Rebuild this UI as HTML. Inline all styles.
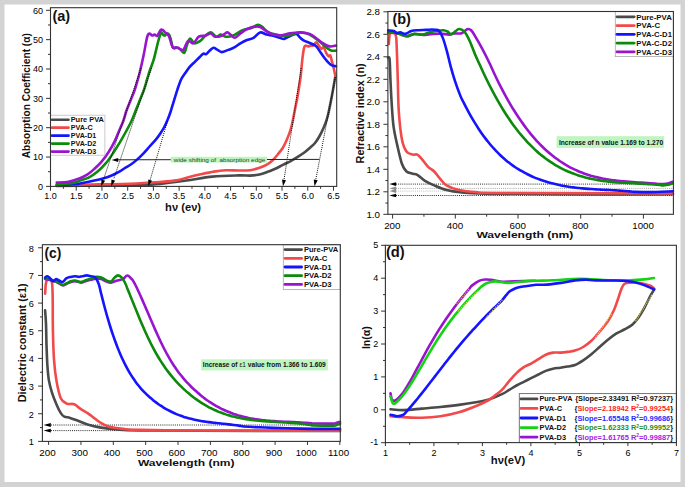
<!DOCTYPE html>
<html><head><meta charset="utf-8"><title>Optical properties</title>
<style>
html,body{margin:0;padding:0;background:#d3d3d3;}
body{width:685px;height:487px;overflow:hidden;}
svg{display:block;font-family:"Liberation Sans", sans-serif;}
</style></head>
<body>
<svg width="685" height="487" viewBox="0 0 685 487" font-family="Liberation Sans, sans-serif">
<rect x="0" y="0" width="685" height="487" fill="#d3d3d3"/>
<rect x="4.5" y="4.5" width="676" height="477.5" fill="#ffffff"/>
<line x1="46" y1="186.4" x2="50.5" y2="186.4" stroke="#333333" stroke-width="1"/>
<text x="43" y="189.6" font-size="9" text-anchor="end">0</text>
<line x1="48" y1="171.72" x2="50.5" y2="171.72" stroke="#333333" stroke-width="1"/>
<line x1="46" y1="157.05" x2="50.5" y2="157.05" stroke="#333333" stroke-width="1"/>
<text x="43" y="160.25" font-size="9" text-anchor="end">10</text>
<line x1="48" y1="142.38" x2="50.5" y2="142.38" stroke="#333333" stroke-width="1"/>
<line x1="46" y1="127.7" x2="50.5" y2="127.7" stroke="#333333" stroke-width="1"/>
<text x="43" y="130.9" font-size="9" text-anchor="end">20</text>
<line x1="48" y1="113.03" x2="50.5" y2="113.03" stroke="#333333" stroke-width="1"/>
<line x1="46" y1="98.35" x2="50.5" y2="98.35" stroke="#333333" stroke-width="1"/>
<text x="43" y="101.55" font-size="9" text-anchor="end">30</text>
<line x1="48" y1="83.67" x2="50.5" y2="83.67" stroke="#333333" stroke-width="1"/>
<line x1="46" y1="69" x2="50.5" y2="69" stroke="#333333" stroke-width="1"/>
<text x="43" y="72.2" font-size="9" text-anchor="end">40</text>
<line x1="48" y1="54.33" x2="50.5" y2="54.33" stroke="#333333" stroke-width="1"/>
<line x1="46" y1="39.65" x2="50.5" y2="39.65" stroke="#333333" stroke-width="1"/>
<text x="43" y="42.85" font-size="9" text-anchor="end">50</text>
<line x1="48" y1="24.97" x2="50.5" y2="24.97" stroke="#333333" stroke-width="1"/>
<line x1="46" y1="10.3" x2="50.5" y2="10.3" stroke="#333333" stroke-width="1"/>
<text x="43" y="13.5" font-size="9" text-anchor="end">60</text>
<line x1="50.5" y1="186.4" x2="50.5" y2="190.7" stroke="#333333" stroke-width="1"/>
<text x="50.5" y="199.3" font-size="9" text-anchor="middle">1.0</text>
<line x1="63.36" y1="186.4" x2="63.36" y2="188.8" stroke="#333333" stroke-width="1"/>
<line x1="76.22" y1="186.4" x2="76.22" y2="190.7" stroke="#333333" stroke-width="1"/>
<text x="76.22" y="199.3" font-size="9" text-anchor="middle">1.5</text>
<line x1="89.09" y1="186.4" x2="89.09" y2="188.8" stroke="#333333" stroke-width="1"/>
<line x1="101.95" y1="186.4" x2="101.95" y2="190.7" stroke="#333333" stroke-width="1"/>
<text x="101.95" y="199.3" font-size="9" text-anchor="middle">2.0</text>
<line x1="114.81" y1="186.4" x2="114.81" y2="188.8" stroke="#333333" stroke-width="1"/>
<line x1="127.68" y1="186.4" x2="127.68" y2="190.7" stroke="#333333" stroke-width="1"/>
<text x="127.68" y="199.3" font-size="9" text-anchor="middle">2.5</text>
<line x1="140.54" y1="186.4" x2="140.54" y2="188.8" stroke="#333333" stroke-width="1"/>
<line x1="153.4" y1="186.4" x2="153.4" y2="190.7" stroke="#333333" stroke-width="1"/>
<text x="153.4" y="199.3" font-size="9" text-anchor="middle">3.0</text>
<line x1="166.26" y1="186.4" x2="166.26" y2="188.8" stroke="#333333" stroke-width="1"/>
<line x1="179.12" y1="186.4" x2="179.12" y2="190.7" stroke="#333333" stroke-width="1"/>
<text x="179.12" y="199.3" font-size="9" text-anchor="middle">3.5</text>
<line x1="191.99" y1="186.4" x2="191.99" y2="188.8" stroke="#333333" stroke-width="1"/>
<line x1="204.85" y1="186.4" x2="204.85" y2="190.7" stroke="#333333" stroke-width="1"/>
<text x="204.85" y="199.3" font-size="9" text-anchor="middle">4.0</text>
<line x1="217.71" y1="186.4" x2="217.71" y2="188.8" stroke="#333333" stroke-width="1"/>
<line x1="230.58" y1="186.4" x2="230.58" y2="190.7" stroke="#333333" stroke-width="1"/>
<text x="230.58" y="199.3" font-size="9" text-anchor="middle">4.5</text>
<line x1="243.44" y1="186.4" x2="243.44" y2="188.8" stroke="#333333" stroke-width="1"/>
<line x1="256.3" y1="186.4" x2="256.3" y2="190.7" stroke="#333333" stroke-width="1"/>
<text x="256.3" y="199.3" font-size="9" text-anchor="middle">5.0</text>
<line x1="269.16" y1="186.4" x2="269.16" y2="188.8" stroke="#333333" stroke-width="1"/>
<line x1="282.02" y1="186.4" x2="282.02" y2="190.7" stroke="#333333" stroke-width="1"/>
<text x="282.02" y="199.3" font-size="9" text-anchor="middle">5.5</text>
<line x1="294.89" y1="186.4" x2="294.89" y2="188.8" stroke="#333333" stroke-width="1"/>
<line x1="307.75" y1="186.4" x2="307.75" y2="190.7" stroke="#333333" stroke-width="1"/>
<text x="307.75" y="199.3" font-size="9" text-anchor="middle">6.0</text>
<line x1="320.61" y1="186.4" x2="320.61" y2="188.8" stroke="#333333" stroke-width="1"/>
<line x1="333.48" y1="186.4" x2="333.48" y2="190.7" stroke="#333333" stroke-width="1"/>
<text x="333.48" y="199.3" font-size="9" text-anchor="middle">6.5</text>
<text x="30.4" y="95.7" font-size="10.5" text-anchor="middle" font-weight="bold" fill="#111" textLength="125" lengthAdjust="spacingAndGlyphs" transform="rotate(-90 30.4 95.7)">Absorption Coefficient (α)</text>
<text x="183.1" y="211" font-size="10" text-anchor="middle" font-weight="bold" fill="#111" textLength="36" lengthAdjust="spacingAndGlyphs">hν (eν)</text>
<text x="52.4" y="21.2" font-size="14" font-weight="bold" fill="#111" textLength="17.8" lengthAdjust="spacingAndGlyphs">(a)</text>
<g>
<path d="M56.8,186 C64,185.93 86.13,185.77 100,185.6 C113.87,185.43 130,185.28 140,185 C150,184.72 152.28,184.65 160,183.9 C167.72,183.15 177.55,181.72 186.3,180.5 C195.05,179.28 203.75,177.45 212.5,176.6 C221.25,175.75 232.55,175.57 238.8,175.4 C245.05,175.23 246.77,175.7 250,175.6 C253.23,175.5 255.47,175.35 258.2,174.8 C260.93,174.25 263.65,173.27 266.4,172.3 C269.15,171.33 271.95,170.23 274.7,169 C277.45,167.77 280.17,166.27 282.9,164.9 C285.63,163.53 288.37,162.3 291.1,160.8 C293.83,159.3 296.98,157.37 299.3,155.9 C301.62,154.43 303.22,153.37 305,152 C306.78,150.63 308.33,149.2 310,147.7 C311.67,146.2 313.45,144.87 315,143 C316.55,141.13 317.88,139 319.3,136.5 C320.72,134 322.22,130.98 323.5,128 C324.78,125.02 326,121.93 327,118.6 C328,115.27 328.72,111.6 329.5,108 C330.28,104.4 331.03,100.5 331.7,97 C332.37,93.5 332.88,90.5 333.5,87 C334.12,83.5 335.08,77.83 335.4,76" fill="none" stroke="#4a4a4a" stroke-width="2.6" stroke-linejoin="round" stroke-linecap="round"/>
<path d="M56.8,185.3 C63.88,185.15 87.1,184.65 99.3,184.4 C111.5,184.15 119.88,184.2 130,183.8 C140.12,183.4 152.23,182.57 160,182 C167.77,181.43 172,181.17 176.6,180.4 C181.2,179.63 183.58,178.42 187.6,177.4 C191.62,176.38 196.32,175.27 200.7,174.3 C205.08,173.33 209.73,172.27 213.9,171.6 C218.07,170.93 221.55,170.48 225.7,170.3 C229.85,170.12 234.75,170.52 238.8,170.5 C242.85,170.48 246.77,170.58 250,170.2 C253.23,169.82 255.47,169.08 258.2,168.2 C260.93,167.32 263.93,166.27 266.4,164.9 C268.87,163.53 271.08,161.78 273,160 C274.92,158.22 276.25,156.25 277.9,154.2 C279.55,152.15 281.52,149.88 282.9,147.7 C284.28,145.52 285.1,143.57 286.2,141.1 C287.3,138.63 288.55,135.63 289.5,132.9 C290.45,130.17 291.22,127.45 291.9,124.7 C292.58,121.95 293.05,119.15 293.6,116.4 C294.15,113.65 294.65,110.93 295.2,108.2 C295.75,105.47 296.4,102.62 296.9,100 C297.4,97.38 297.57,96.48 298.2,92.5 C298.83,88.52 300.02,81.58 300.7,76.1 C301.38,70.62 301.75,64.27 302.3,59.6 C302.85,54.93 303.45,50.43 304,48.1 C304.55,45.77 304.92,45.88 305.6,45.6 C306.28,45.32 307.27,46.4 308.1,46.4 C308.93,46.4 309.78,45.73 310.6,45.6 C311.42,45.47 312.05,46.15 313,45.6 C313.95,45.05 315.33,42.3 316.3,42.3 C317.27,42.3 317.97,44.5 318.8,45.6 C319.63,46.7 320.48,48.62 321.3,48.9 C322.12,49.18 322.88,46.62 323.7,47.3 C324.52,47.98 325.37,51.5 326.2,53 C327.03,54.5 328.02,55.88 328.7,56.3 C329.38,56.72 329.77,54.67 330.3,55.5 C330.83,56.33 331.35,59.25 331.9,61.3 C332.45,63.35 333.02,65.33 333.6,67.8 C334.18,70.27 335.1,74.72 335.4,76.1" fill="none" stroke="#f24a4a" stroke-width="2.6" stroke-linejoin="round" stroke-linecap="round"/>
<path d="M56.8,185 C59.78,184.88 70.83,184.55 74.7,184.3 C78.57,184.05 76.72,184.12 80,183.5 C83.28,182.88 90.57,181.43 94.4,180.6 C98.23,179.77 100.12,179.35 103,178.5 C105.88,177.65 108.82,176.72 111.7,175.5 C114.58,174.28 118.08,172.45 120.3,171.2 C122.52,169.95 123.18,169.15 125,168 C126.82,166.85 129.15,165.73 131.2,164.3 C133.25,162.87 135.25,161.23 137.3,159.4 C139.35,157.57 141.45,155.45 143.5,153.3 C145.55,151.15 147.55,148.77 149.6,146.5 C151.65,144.23 154.07,141.78 155.8,139.7 C157.53,137.62 158.63,136.03 160,134 C161.37,131.97 162.75,129.83 164,127.5 C165.25,125.17 166.42,122.58 167.5,120 C168.58,117.42 169.6,114.65 170.5,112 C171.4,109.35 171.73,107.88 172.9,104.1 C174.07,100.32 176.12,93.45 177.5,89.3 C178.88,85.15 179.97,81.82 181.2,79.2 C182.43,76.58 183.52,75.6 184.9,73.6 C186.28,71.6 187.8,69.2 189.5,67.2 C191.2,65.2 193.4,63.3 195.1,61.6 C196.8,59.9 198.32,58.32 199.7,57 C201.08,55.68 202.32,54.17 203.4,53.7 C204.48,53.23 205.13,54.73 206.2,54.2 C207.27,53.67 208.58,51.57 209.8,50.5 C211.02,49.43 212.27,47.95 213.5,47.8 C214.73,47.65 215.83,48.88 217.2,49.6 C218.57,50.32 219.85,52.05 221.7,52.1 C223.55,52.15 226.28,50.63 228.3,49.9 C230.32,49.17 231.78,48.8 233.8,47.7 C235.82,46.6 238.22,44.58 240.4,43.3 C242.58,42.02 244.72,40.92 246.9,40 C249.08,39.08 251.3,39.07 253.5,37.8 C255.7,36.53 257.92,32.93 260.1,32.4 C262.28,31.87 264.42,34.05 266.6,34.6 C268.78,35.15 271,35.17 273.2,35.7 C275.4,36.23 277.97,37.27 279.8,37.8 C281.63,38.33 282.38,39.25 284.2,38.9 C286.02,38.55 288.63,36.5 290.7,35.7 C292.77,34.9 295.07,33.82 296.6,34.1 C298.13,34.38 298.67,36.3 299.9,37.4 C301.13,38.5 302.63,39.88 304,40.7 C305.37,41.52 306.73,41.75 308.1,42.3 C309.47,42.85 310.83,43.32 312.2,44 C313.57,44.68 314.93,45.03 316.3,46.4 C317.67,47.77 319.03,50.27 320.4,52.2 C321.77,54.13 323.12,56.22 324.5,58 C325.88,59.78 327.47,61.67 328.7,62.9 C329.93,64.13 330.68,64.85 331.9,65.4 C333.12,65.95 335.32,66.07 336,66.2" fill="none" stroke="#1414ff" stroke-width="2.6" stroke-linejoin="round" stroke-linecap="round"/>
<path d="M56.8,184.6 C59.78,184.27 70.83,183.27 74.7,182.6 C78.57,181.93 77.68,181.43 80,180.6 C82.32,179.77 85.72,179.07 88.6,177.6 C91.48,176.13 94.42,174.2 97.3,171.8 C100.18,169.4 103.27,166.32 105.9,163.2 C108.53,160.08 110.7,156.7 113.1,153.1 C115.5,149.5 118.15,145.2 120.3,141.6 C122.45,138 124.13,134.93 126,131.5 C127.87,128.07 129.9,124.45 131.5,121 C133.1,117.55 134.23,114.22 135.6,110.8 C136.97,107.38 138.33,103.92 139.7,100.5 C141.07,97.08 142.55,93.88 143.8,90.3 C145.05,86.72 146.17,82.38 147.2,79 C148.23,75.62 148.97,73.05 150,70 C151.03,66.95 152.42,63.88 153.4,60.7 C154.38,57.52 155.08,54.18 155.9,50.9 C156.72,47.62 157.58,43.67 158.3,41 C159.02,38.33 159.68,36.33 160.2,34.9 C160.72,33.47 160.88,32.4 161.4,32.4 C161.92,32.4 162.68,34.38 163.3,34.9 C163.92,35.42 164.5,35.72 165.1,35.5 C165.7,35.28 166.28,33.82 166.9,33.6 C167.52,33.38 168.18,33.38 168.8,34.2 C169.42,35.02 169.98,36.43 170.6,38.5 C171.22,40.57 171.88,44.95 172.5,46.6 C173.12,48.25 173.58,48.2 174.3,48.4 C175.02,48.6 175.85,47.7 176.8,47.8 C177.75,47.9 178.77,48.17 180,49 C181.23,49.83 183.03,53.47 184.2,52.8 C185.37,52.13 186.02,47.38 187,45 C187.98,42.62 188.87,38.78 190.1,38.5 C191.33,38.22 192.77,42.87 194.4,43.3 C196.03,43.73 198.08,42.37 199.9,41.1 C201.72,39.83 203.48,37.15 205.3,35.7 C207.12,34.25 208.97,32.23 210.8,32.4 C212.63,32.57 214.65,36.33 216.3,36.7 C217.95,37.07 219.07,34.6 220.7,34.6 C222.33,34.6 224.1,36.52 226.1,36.7 C228.1,36.88 229.95,36.78 232.7,35.7 C235.45,34.62 239.5,31.48 242.6,30.2 C245.7,28.92 248.75,28.92 251.3,28 C253.85,27.08 256.07,24.88 257.9,24.7 C259.73,24.52 260.48,25.62 262.3,26.9 C264.12,28.18 265.52,30.93 268.8,32.4 C272.08,33.87 278.47,35.22 282,35.7 C285.53,36.18 287.3,35.83 290,35.3 C292.7,34.77 295.47,32.83 298.2,32.5 C300.93,32.17 303.93,32.62 306.4,33.3 C308.87,33.98 310.8,35.23 313,36.6 C315.2,37.97 317.4,39.72 319.6,41.5 C321.8,43.28 324.28,45.78 326.2,47.3 C328.12,48.82 329.47,50.05 331.1,50.6 C332.73,51.15 335.18,50.6 336,50.6" fill="none" stroke="#0b8a0b" stroke-width="2.6" stroke-linejoin="round" stroke-linecap="round"/>
<path d="M56.8,182.6 C58.75,182.47 64.63,182.52 68.5,181.8 C72.37,181.08 76.88,179.48 80,178.3 C83.12,177.12 84.8,176.27 87.2,174.7 C89.6,173.13 92,171.07 94.4,168.9 C96.8,166.73 99.2,164.57 101.6,161.7 C104,158.83 106.65,155.05 108.8,151.7 C110.95,148.35 112.83,144.97 114.5,141.6 C116.17,138.23 117.33,134.93 118.8,131.5 C120.27,128.07 122.03,124.45 123.3,121 C124.57,117.55 125.2,114.22 126.4,110.8 C127.6,107.38 129.13,103.92 130.5,100.5 C131.87,97.08 133.4,93.72 134.6,90.3 C135.8,86.88 136.82,83.08 137.7,80 C138.58,76.92 138.93,75.83 139.9,71.8 C140.87,67.77 142.43,60.93 143.5,55.8 C144.57,50.67 145.57,44.48 146.3,41 C147.03,37.52 147.33,36.13 147.9,34.9 C148.47,33.67 148.98,33.5 149.7,33.6 C150.42,33.7 151.38,35.33 152.2,35.5 C153.02,35.67 153.78,34.5 154.6,34.6 C155.42,34.7 156.38,36.37 157.1,36.1 C157.82,35.83 158.28,34.07 158.9,33 C159.52,31.93 160.18,30.22 160.8,29.7 C161.42,29.18 161.88,29.45 162.6,29.9 C163.32,30.35 164.27,31.68 165.1,32.4 C165.93,33.12 166.88,33.38 167.6,34.2 C168.32,35.02 168.78,35.75 169.4,37.3 C170.02,38.85 170.68,41.75 171.3,43.5 C171.92,45.25 172.38,47.18 173.1,47.8 C173.82,48.42 174.78,47.2 175.6,47.2 C176.42,47.2 177.18,47.45 178,47.8 C178.82,48.15 179.57,49 180.5,49.3 C181.43,49.6 182.35,50.98 183.6,49.6 C184.85,48.22 186.38,42.05 188,41 C189.62,39.95 191.5,44.02 193.3,43.3 C195.1,42.58 196.8,37.97 198.8,36.7 C200.8,35.43 203.3,36.23 205.3,35.7 C207.3,35.17 209.15,33.33 210.8,33.5 C212.45,33.67 213.38,36.33 215.2,36.7 C217.02,37.07 219.7,36.42 221.7,35.7 C223.7,34.98 225.73,32.58 227.2,32.4 C228.67,32.22 229.22,33.7 230.5,34.6 C231.78,35.5 233.25,37.98 234.9,37.8 C236.55,37.62 238.4,34.95 240.4,33.5 C242.4,32.05 244.72,30.2 246.9,29.1 C249.08,28 251.3,27.27 253.5,26.9 C255.7,26.53 257.92,26.17 260.1,26.9 C262.28,27.63 264.42,30.02 266.6,31.3 C268.78,32.58 270.63,33.95 273.2,34.6 C275.77,35.25 279.2,35.42 282,35.2 C284.8,34.98 287.02,33.75 290,33.3 C292.98,32.85 296.62,32.37 299.9,32.5 C303.18,32.63 306.97,33.15 309.7,34.1 C312.43,35.05 314.1,36.68 316.3,38.2 C318.5,39.72 320.7,41.83 322.9,43.2 C325.1,44.57 327.32,46 329.5,46.4 C331.68,46.8 334.92,45.73 336,45.6" fill="none" stroke="#9914cf" stroke-width="2.6" stroke-linejoin="round" stroke-linecap="round"/>
</g>
<line x1="141" y1="68" x2="103.59" y2="179.2" stroke="#000" stroke-width="0.95" stroke-dasharray="1 1.1"/>
<path d="M101.2,186.3 L101.38,179.5 L105.17,180.78 Z" fill="#000"/>
<line x1="151.5" y1="68" x2="113.62" y2="179.2" stroke="#000" stroke-width="0.95" stroke-dasharray="1 1.1"/>
<path d="M111.2,186.3 L111.4,179.5 L115.19,180.79 Z" fill="#000"/>
<line x1="167.5" y1="121" x2="149.45" y2="182.38" stroke="#000" stroke-width="0.95" stroke-dasharray="1 1.1"/>
<path d="M148.3,186.3 L148.21,179.5 L152.05,180.63 Z" fill="#000"/>
<line x1="301.2" y1="68" x2="284.09" y2="179.2" stroke="#000" stroke-width="0.95" stroke-dasharray="1 1.1"/>
<path d="M283,186.3 L282.01,179.57 L285.97,180.18 Z" fill="#000"/>
<line x1="335.4" y1="77" x2="315.75" y2="179.74" stroke="#000" stroke-width="0.95" stroke-dasharray="1 1.1"/>
<path d="M314.5,186.3 L313.76,179.54 L317.69,180.29 Z" fill="#000"/>
<line x1="116" y1="159.8" x2="319.3" y2="159.4" stroke="#222" stroke-width="1.0"/>
<path d="M111.7,159.9 L118.2,157.9 L118.2,161.9 Z" fill="#000"/>
<rect x="170.7" y="156.8" width="96.3" height="5.8" fill="#bdf5bd"/>
<text x="173.8" y="161.5" font-size="6.2" fill="#264a26" textLength="91.5" lengthAdjust="spacingAndGlyphs">wide shifting of&#160; absorption edge</text>
<rect x="50.6" y="115.2" width="54.3" height="40" fill="#ffffff" stroke="#bdbdbd" stroke-width="0.8"/>
<line x1="52" y1="119.75" x2="68.5" y2="119.75" stroke="#4a4a4a" stroke-width="2.7" stroke-linecap="round"/>
<text x="70.7" y="122.05" font-size="6.4" font-weight="bold" fill="#111" textLength="33.2" lengthAdjust="spacingAndGlyphs">Pure PVA</text>
<line x1="52" y1="127.7" x2="68.5" y2="127.7" stroke="#f24a4a" stroke-width="2.7" stroke-linecap="round"/>
<text x="70.7" y="130" font-size="6.4" font-weight="bold" fill="#111" textLength="22" lengthAdjust="spacingAndGlyphs">PVA-C</text>
<line x1="52" y1="135.65" x2="68.5" y2="135.65" stroke="#1414ff" stroke-width="2.7" stroke-linecap="round"/>
<text x="70.7" y="137.95" font-size="6.4" font-weight="bold" fill="#111" textLength="25.6" lengthAdjust="spacingAndGlyphs">PVA-D1</text>
<line x1="52" y1="143.6" x2="68.5" y2="143.6" stroke="#0b8a0b" stroke-width="2.7" stroke-linecap="round"/>
<text x="70.7" y="145.9" font-size="6.4" font-weight="bold" fill="#111" textLength="25.6" lengthAdjust="spacingAndGlyphs">PVA-D2</text>
<line x1="52" y1="151.55" x2="68.5" y2="151.55" stroke="#9914cf" stroke-width="2.7" stroke-linecap="round"/>
<text x="70.7" y="153.85" font-size="6.4" font-weight="bold" fill="#111" textLength="25.6" lengthAdjust="spacingAndGlyphs">PVA-D3</text>
<rect x="50.5" y="7.7" width="286.2" height="178.7" fill="none" stroke="#333333" stroke-width="1.1"/>
<line x1="383.4" y1="214.3" x2="387.9" y2="214.3" stroke="#333333" stroke-width="1"/>
<text x="380" y="217.5" font-size="9" text-anchor="end" textLength="13.6" lengthAdjust="spacingAndGlyphs">1.0</text>
<line x1="385.4" y1="203.05" x2="387.9" y2="203.05" stroke="#333333" stroke-width="1"/>
<line x1="383.4" y1="191.8" x2="387.9" y2="191.8" stroke="#333333" stroke-width="1"/>
<text x="380" y="195" font-size="9" text-anchor="end" textLength="13.6" lengthAdjust="spacingAndGlyphs">1.2</text>
<line x1="385.4" y1="180.55" x2="387.9" y2="180.55" stroke="#333333" stroke-width="1"/>
<line x1="383.4" y1="169.3" x2="387.9" y2="169.3" stroke="#333333" stroke-width="1"/>
<text x="380" y="172.5" font-size="9" text-anchor="end" textLength="13.6" lengthAdjust="spacingAndGlyphs">1.4</text>
<line x1="385.4" y1="158.05" x2="387.9" y2="158.05" stroke="#333333" stroke-width="1"/>
<line x1="383.4" y1="146.8" x2="387.9" y2="146.8" stroke="#333333" stroke-width="1"/>
<text x="380" y="150" font-size="9" text-anchor="end" textLength="13.6" lengthAdjust="spacingAndGlyphs">1.6</text>
<line x1="385.4" y1="135.55" x2="387.9" y2="135.55" stroke="#333333" stroke-width="1"/>
<line x1="383.4" y1="124.3" x2="387.9" y2="124.3" stroke="#333333" stroke-width="1"/>
<text x="380" y="127.5" font-size="9" text-anchor="end" textLength="13.6" lengthAdjust="spacingAndGlyphs">1.8</text>
<line x1="385.4" y1="113.05" x2="387.9" y2="113.05" stroke="#333333" stroke-width="1"/>
<line x1="383.4" y1="101.8" x2="387.9" y2="101.8" stroke="#333333" stroke-width="1"/>
<text x="380" y="105" font-size="9" text-anchor="end" textLength="13.6" lengthAdjust="spacingAndGlyphs">2.0</text>
<line x1="385.4" y1="90.55" x2="387.9" y2="90.55" stroke="#333333" stroke-width="1"/>
<line x1="383.4" y1="79.3" x2="387.9" y2="79.3" stroke="#333333" stroke-width="1"/>
<text x="380" y="82.5" font-size="9" text-anchor="end" textLength="13.6" lengthAdjust="spacingAndGlyphs">2.2</text>
<line x1="385.4" y1="68.05" x2="387.9" y2="68.05" stroke="#333333" stroke-width="1"/>
<line x1="383.4" y1="56.8" x2="387.9" y2="56.8" stroke="#333333" stroke-width="1"/>
<text x="380" y="60" font-size="9" text-anchor="end" textLength="13.6" lengthAdjust="spacingAndGlyphs">2.4</text>
<line x1="385.4" y1="45.55" x2="387.9" y2="45.55" stroke="#333333" stroke-width="1"/>
<line x1="383.4" y1="34.3" x2="387.9" y2="34.3" stroke="#333333" stroke-width="1"/>
<text x="380" y="37.5" font-size="9" text-anchor="end" textLength="13.6" lengthAdjust="spacingAndGlyphs">2.6</text>
<line x1="385.4" y1="23.05" x2="387.9" y2="23.05" stroke="#333333" stroke-width="1"/>
<line x1="383.4" y1="11.8" x2="387.9" y2="11.8" stroke="#333333" stroke-width="1"/>
<text x="380" y="15" font-size="9" text-anchor="end" textLength="13.6" lengthAdjust="spacingAndGlyphs">2.8</text>
<line x1="392.6" y1="214.3" x2="392.6" y2="218.6" stroke="#333333" stroke-width="1"/>
<text x="392.3" y="228.7" font-size="9.3" text-anchor="middle" textLength="16.3" lengthAdjust="spacingAndGlyphs">200</text>
<line x1="423.95" y1="214.3" x2="423.95" y2="216.7" stroke="#333333" stroke-width="1"/>
<line x1="455.3" y1="214.3" x2="455.3" y2="218.6" stroke="#333333" stroke-width="1"/>
<text x="455" y="228.7" font-size="9.3" text-anchor="middle" textLength="16.3" lengthAdjust="spacingAndGlyphs">400</text>
<line x1="486.65" y1="214.3" x2="486.65" y2="216.7" stroke="#333333" stroke-width="1"/>
<line x1="518" y1="214.3" x2="518" y2="218.6" stroke="#333333" stroke-width="1"/>
<text x="517.7" y="228.7" font-size="9.3" text-anchor="middle" textLength="16.3" lengthAdjust="spacingAndGlyphs">600</text>
<line x1="549.35" y1="214.3" x2="549.35" y2="216.7" stroke="#333333" stroke-width="1"/>
<line x1="580.7" y1="214.3" x2="580.7" y2="218.6" stroke="#333333" stroke-width="1"/>
<text x="580.4" y="228.7" font-size="9.3" text-anchor="middle" textLength="16.3" lengthAdjust="spacingAndGlyphs">800</text>
<line x1="612.05" y1="214.3" x2="612.05" y2="216.7" stroke="#333333" stroke-width="1"/>
<line x1="643.4" y1="214.3" x2="643.4" y2="218.6" stroke="#333333" stroke-width="1"/>
<text x="643.1" y="228.7" font-size="9.3" text-anchor="middle" textLength="21.6" lengthAdjust="spacingAndGlyphs">1000</text>
<text x="364" y="113.4" font-size="10.5" text-anchor="middle" font-weight="bold" fill="#111" textLength="100" lengthAdjust="spacingAndGlyphs" transform="rotate(-90 364 113.4)">Refractive index (n)</text>
<text x="524.9" y="238.4" font-size="9.6" text-anchor="middle" font-weight="bold" fill="#111" textLength="97" lengthAdjust="spacingAndGlyphs">Wavelength (nm)</text>
<text x="392.4" y="23.9" font-size="14" font-weight="bold" fill="#111" textLength="18.5" lengthAdjust="spacingAndGlyphs">(b)</text>
<line x1="396" y1="184.1" x2="673.4" y2="184.1" stroke="#111" stroke-width="0.9" stroke-dasharray="1 1.1"/>
<path d="M389.4,184.1 L396.1,182.3 L396.1,185.9 Z" fill="#000"/>
<line x1="396" y1="188.4" x2="673.4" y2="188.4" stroke="#9a9a9a" stroke-width="0.9" stroke-dasharray="1 1.1"/>
<path d="M389.4,188.4 L396.1,186.6 L396.1,190.2 Z" fill="#8a8a8a"/>
<line x1="396" y1="191.1" x2="673.4" y2="191.1" stroke="#b5b5b5" stroke-width="0.9" stroke-dasharray="1 1.1"/>
<path d="M389.4,191.1 L396.1,189.3 L396.1,192.9 Z" fill="#8a8a8a"/>
<line x1="396" y1="195.5" x2="673.4" y2="195.5" stroke="#111" stroke-width="0.9" stroke-dasharray="1 1.1"/>
<path d="M389.4,195.5 L396.1,193.7 L396.1,197.3 Z" fill="#000"/>
<path d="M388.1,57.7 C388.35,58 389.2,55.65 389.6,59.5 C390,63.35 390.13,73.15 390.5,80.8 C390.87,88.45 391.28,97.72 391.8,105.4 C392.32,113.08 392.68,120.23 393.6,126.9 C394.52,133.57 395.92,139.25 397.3,145.4 C398.68,151.55 400.37,159.45 401.9,163.8 C403.43,168.15 404.7,169.85 406.5,171.5 C408.3,173.15 410.9,173.15 412.7,173.7 C414.5,174.25 415.25,173.62 417.3,174.8 C419.35,175.98 422.18,179.03 425,180.8 C427.82,182.57 430.62,183.87 434.2,185.4 C437.78,186.93 441.88,188.83 446.5,190 C451.12,191.17 455.48,191.8 461.9,192.4 C468.32,193 468.65,193.28 485,193.6 C501.35,193.92 528.67,194.18 560,194.3 C591.33,194.42 654.17,194.3 673,194.3" fill="none" stroke="#4a4a4a" stroke-width="2.6" stroke-linejoin="round" stroke-linecap="round"/>
<path d="M388.8,44 C388.98,42.2 389.4,35.03 389.9,33.2 C390.4,31.37 390.97,32.93 391.8,33 C392.63,33.07 394.17,32.85 394.9,33.6 C395.63,34.35 395.88,34.9 396.2,37.5 C396.52,40.1 396.62,44.82 396.8,49.2 C396.98,53.58 397.13,58.53 397.3,63.8 C397.47,69.07 397.55,72.85 397.8,80.8 C398.05,88.75 398.12,101.77 398.8,111.5 C399.48,121.23 400.62,132.53 401.9,139.2 C403.18,145.87 404.7,148.93 406.5,151.5 C408.3,154.07 410.9,154.08 412.7,154.6 C414.5,155.12 415.77,153.83 417.3,154.6 C418.83,155.37 420.1,157.15 421.9,159.2 C423.7,161.25 426.05,164.85 428.1,166.9 C430.15,168.95 432.15,169.45 434.2,171.5 C436.25,173.55 438.35,176.88 440.4,179.2 C442.45,181.52 443.43,183.6 446.5,185.4 C449.57,187.2 453.67,188.87 458.8,190 C463.93,191.13 470.43,191.7 477.3,192.2 C484.17,192.7 467.38,192.8 500,193 C532.62,193.2 644.17,193.33 673,193.4" fill="none" stroke="#f24a4a" stroke-width="2.6" stroke-linejoin="round" stroke-linecap="round"/>
<path d="M388.2,32.6 C389.13,32.6 391.9,32.35 393.8,32.6 C395.7,32.85 397.42,33.48 399.6,34.1 C401.78,34.72 404.47,36.3 406.9,36.3 C409.33,36.3 411.52,34.33 414.2,34.1 C416.88,33.87 420.37,34.87 423,34.9 C425.63,34.93 427.17,34.52 430,34.3 C432.83,34.08 436.8,33.55 440,33.6 C443.2,33.65 446.92,34.63 449.2,34.6 C451.48,34.57 451.62,33.63 453.7,33.4 C455.78,33.17 459.47,33.9 461.7,33.2 C463.93,32.5 465.53,29.68 467.1,29.2 C468.67,28.72 469.55,28.77 471.1,30.3 C472.65,31.83 474.4,35.05 476.4,38.4 C478.4,41.75 480.87,46.17 483.1,50.4 C485.33,54.63 488.18,60.44 489.8,63.79 C491.42,67.15 491.83,68.33 492.84,70.53 C493.85,72.74 494.86,74.89 495.88,77.01 C496.89,79.12 497.9,81.19 498.91,83.22 C499.93,85.24 500.94,87.23 501.95,89.17 C502.96,91.11 503.98,93.01 504.99,94.87 C506,96.73 507.01,98.55 508.02,100.33 C509.04,102.1 510.05,103.84 511.06,105.54 C512.08,107.24 513.09,108.9 514.1,110.52 C515.11,112.14 516.12,113.73 517.14,115.27 C518.15,116.82 519.16,118.33 520.17,119.8 C521.19,121.28 522.2,122.71 523.21,124.12 C524.23,125.52 525.24,126.88 526.25,128.22 C527.26,129.55 528.27,130.85 529.29,132.11 C530.3,133.37 531.31,134.6 532.33,135.8 C533.34,137 534.35,138.17 535.36,139.3 C536.38,140.44 537.39,141.54 538.4,142.61 C539.41,143.68 540.42,144.73 541.44,145.74 C542.45,146.75 543.46,147.73 544.48,148.69 C545.49,149.64 546.5,150.57 547.51,151.46 C548.53,152.36 549.54,153.23 550.55,154.07 C551.56,154.92 552.57,155.73 553.59,156.52 C554.6,157.31 555.61,158.08 556.62,158.82 C557.64,159.56 558.65,160.27 559.66,160.96 C560.68,161.65 561.69,162.32 562.7,162.96 C563.71,163.61 564.72,164.23 565.74,164.83 C566.75,165.43 567.76,166 568.77,166.56 C569.79,167.11 570.8,167.65 571.81,168.16 C572.83,168.68 573.84,169.17 574.85,169.64 C575.86,170.12 576.88,170.57 577.89,171.01 C578.9,171.45 579.91,171.87 580.92,172.27 C581.94,172.67 582.95,173.05 583.96,173.42 C584.98,173.79 585.99,174.14 587,174.48 C588.01,174.81 589.02,175.13 590.04,175.44 C591.05,175.74 592.06,176.03 593.08,176.31 C594.09,176.59 595.1,176.85 596.11,177.1 C597.12,177.35 598.14,177.59 599.15,177.81 C600.16,178.04 601.17,178.25 602.19,178.45 C603.2,178.65 604.21,178.84 605.23,179.02 C606.24,179.21 607.25,179.38 608.26,179.54 C609.27,179.7 610.29,179.85 611.3,179.99 C612.31,180.14 613.32,180.27 614.34,180.4 C615.35,180.53 616.36,180.65 617.38,180.76 C618.39,180.87 619.4,180.98 620.41,181.08 C621.42,181.18 622.44,181.28 623.45,181.37 C624.46,181.46 625.47,181.54 626.49,181.62 C627.5,181.7 628.51,181.78 629.52,181.86 C630.54,181.93 631.55,182 632.56,182.07 C633.58,182.14 634.59,182.21 635.6,182.27 C636.61,182.34 637.62,182.41 638.64,182.47 C639.65,182.53 640.66,182.6 641.67,182.66 C642.69,182.73 643.7,182.79 644.71,182.86 C645.73,182.93 646.74,182.99 647.75,183.06 C648.76,183.13 649.77,183.21 650.79,183.28 C651.8,183.36 652.81,183.44 653.82,183.52 C654.84,183.61 655.85,183.69 656.86,183.79 C657.88,183.88 658.31,184.09 659.9,184.08 C661.49,184.06 664.78,183.9 666.4,183.7 C668.02,183.5 668.53,183.22 669.6,182.9 C670.67,182.58 672.27,181.98 672.8,181.8" fill="none" stroke="#9914cf" stroke-width="2.6" stroke-linejoin="round" stroke-linecap="round"/>
<path d="M388.2,32.4 C389.13,32.4 391.9,32.15 393.8,32.4 C395.7,32.65 397.42,33.28 399.6,33.9 C401.78,34.52 404.47,36.1 406.9,36.1 C409.33,36.1 411.52,34.15 414.2,33.9 C416.88,33.65 420.57,34.85 423,34.6 C425.43,34.35 426.62,33 428.8,32.4 C430.98,31.8 433.67,31.37 436.1,31 C438.53,30.63 441.5,30.12 443.4,30.2 C445.3,30.28 446.23,30.83 447.5,31.5 C448.77,32.17 449.75,34.17 451,34.2 C452.25,34.23 453.67,32.57 455,31.7 C456.33,30.83 457.43,29 459,29 C460.57,29 462.62,29.7 464.4,31.7 C466.18,33.7 467.92,37.22 469.7,41 C471.48,44.78 473.08,49.7 475.1,54.4 C477.12,59.1 480.18,65.63 481.8,69.18 C483.42,72.73 483.81,73.57 484.82,75.7 C485.83,77.83 486.84,79.91 487.84,81.95 C488.85,84 489.86,85.99 490.87,87.95 C491.87,89.91 492.88,91.82 493.89,93.69 C494.89,95.57 495.9,97.4 496.91,99.19 C497.92,100.98 498.92,102.73 499.93,104.44 C500.94,106.15 501.94,107.82 502.95,109.45 C503.96,111.09 504.97,112.68 505.97,114.24 C506.98,115.8 507.99,117.32 509,118.8 C510,120.29 511.01,121.73 512.02,123.15 C513.02,124.56 514.03,125.93 515.04,127.28 C516.05,128.62 517.05,129.93 518.06,131.2 C519.07,132.48 520.07,133.72 521.08,134.92 C522.09,136.13 523.1,137.31 524.1,138.45 C525.11,139.6 526.12,140.71 527.12,141.79 C528.13,142.88 529.14,143.93 530.15,144.95 C531.15,145.97 532.16,146.97 533.17,147.93 C534.18,148.9 535.18,149.83 536.19,150.74 C537.2,151.65 538.2,152.53 539.21,153.39 C540.22,154.24 541.23,155.07 542.23,155.87 C543.24,156.68 544.25,157.45 545.25,158.2 C546.26,158.96 547.27,159.68 548.28,160.39 C549.28,161.09 550.29,161.77 551.3,162.43 C552.31,163.09 553.31,163.73 554.32,164.34 C555.33,164.96 556.33,165.55 557.34,166.12 C558.35,166.69 559.36,167.24 560.36,167.78 C561.37,168.31 562.38,168.82 563.38,169.31 C564.39,169.81 565.4,170.28 566.41,170.74 C567.41,171.2 568.42,171.64 569.43,172.06 C570.44,172.48 571.44,172.89 572.45,173.28 C573.46,173.67 574.46,174.04 575.47,174.39 C576.48,174.75 577.49,175.09 578.49,175.42 C579.5,175.75 580.51,176.06 581.51,176.36 C582.52,176.66 583.53,176.94 584.54,177.21 C585.54,177.48 586.55,177.74 587.56,177.99 C588.57,178.23 589.57,178.46 590.58,178.69 C591.59,178.91 592.59,179.12 593.6,179.32 C594.61,179.52 595.62,179.7 596.62,179.88 C597.63,180.06 598.64,180.23 599.64,180.39 C600.65,180.55 601.66,180.7 602.67,180.84 C603.67,180.98 604.68,181.11 605.69,181.24 C606.7,181.36 607.7,181.48 608.71,181.59 C609.72,181.7 610.72,181.8 611.73,181.9 C612.74,182 613.75,182.09 614.75,182.17 C615.76,182.26 616.77,182.34 617.78,182.41 C618.78,182.49 619.79,182.56 620.8,182.63 C621.8,182.7 622.81,182.76 623.82,182.82 C624.83,182.88 625.83,182.94 626.84,182.99 C627.85,183.05 628.85,183.1 629.86,183.15 C630.87,183.2 631.88,183.25 632.88,183.3 C633.89,183.35 634.9,183.4 635.9,183.45 C636.91,183.5 637.92,183.55 638.93,183.6 C639.93,183.65 640.94,183.7 641.95,183.75 C642.96,183.8 643.96,183.86 644.97,183.91 C645.98,183.97 646.98,184.03 647.99,184.09 C649,184.15 650.01,184.22 651.01,184.29 C652.02,184.35 653.03,184.43 654.04,184.51 C655.04,184.58 656.05,184.67 657.06,184.75 C658.06,184.84 659.07,184.94 660.08,185.04 C661.09,185.14 661.51,185.44 663.1,185.36 C664.69,185.27 667.98,184.83 669.6,184.5 C671.22,184.17 672.27,183.58 672.8,183.4" fill="none" stroke="#0b8a0b" stroke-width="2.6" stroke-linejoin="round" stroke-linecap="round"/>
<path d="M388.2,30.4 C389.13,30.5 392.38,30.55 393.8,31 C395.22,31.45 395.62,32.87 396.7,33.1 C397.78,33.33 398.85,32.27 400.3,32.4 C401.75,32.53 403.57,34.13 405.4,33.9 C407.23,33.67 409.1,31.62 411.3,31 C413.5,30.38 416.17,30.38 418.6,30.2 C421.03,30.02 423.72,30.02 425.9,29.9 C428.08,29.78 430.18,29.52 431.7,29.5 C433.22,29.48 433.78,29.58 435,29.8 C436.22,30.02 437.67,29.37 439,30.8 C440.33,32.23 441.67,34.92 443,38.4 C444.33,41.88 445.67,46.82 447,51.7 C448.33,56.58 449.67,62.8 451,67.7 C452.33,72.6 453.43,76.4 455,81.1 C456.57,85.8 458.99,92.37 460.4,95.88 C461.81,99.39 462.43,100.14 463.45,102.18 C464.47,104.23 465.48,106.22 466.5,108.15 C467.51,110.09 468.53,111.97 469.55,113.8 C470.56,115.63 471.58,117.41 472.6,119.14 C473.61,120.87 474.63,122.55 475.65,124.18 C476.66,125.81 477.68,127.39 478.69,128.93 C479.71,130.46 480.73,131.95 481.74,133.4 C482.76,134.84 483.78,136.24 484.79,137.6 C485.81,138.95 486.83,140.27 487.84,141.54 C488.86,142.81 489.87,144.04 490.89,145.24 C491.91,146.43 492.92,147.58 493.94,148.7 C494.96,149.81 495.97,150.89 496.99,151.93 C498.01,152.98 499.02,153.98 500.04,154.95 C501.05,155.93 502.07,156.86 503.09,157.77 C504.1,158.68 505.12,159.55 506.14,160.4 C507.15,161.24 508.17,162.05 509.19,162.84 C510.2,163.62 511.22,164.38 512.24,165.11 C513.25,165.84 514.27,166.54 515.28,167.22 C516.3,167.89 517.32,168.54 518.33,169.17 C519.35,169.8 520.37,170.41 521.38,170.99 C522.4,171.58 523.42,172.14 524.43,172.68 C525.45,173.23 526.46,173.75 527.48,174.25 C528.5,174.76 529.51,175.25 530.53,175.72 C531.55,176.19 532.56,176.64 533.58,177.08 C534.6,177.52 535.61,177.94 536.63,178.34 C537.64,178.75 538.66,179.14 539.68,179.51 C540.69,179.89 541.71,180.25 542.73,180.59 C543.74,180.94 544.76,181.27 545.78,181.59 C546.79,181.91 547.81,182.21 548.82,182.5 C549.84,182.8 550.86,183.07 551.87,183.34 C552.89,183.61 553.91,183.86 554.92,184.1 C555.94,184.35 556.96,184.58 557.97,184.8 C558.99,185.02 560,185.23 561.02,185.43 C562.04,185.63 563.05,185.82 564.07,186 C565.09,186.18 566.1,186.35 567.12,186.51 C568.14,186.67 569.15,186.82 570.17,186.97 C571.18,187.12 572.2,187.25 573.22,187.38 C574.23,187.51 575.25,187.63 576.27,187.75 C577.28,187.87 578.3,187.97 579.32,188.08 C580.33,188.18 581.35,188.28 582.36,188.37 C583.38,188.46 584.4,188.55 585.41,188.63 C586.43,188.71 587.45,188.79 588.46,188.86 C589.48,188.94 590.5,189 591.51,189.07 C592.53,189.14 593.55,189.2 594.56,189.26 C595.58,189.32 596.59,189.38 597.61,189.43 C598.63,189.49 599.64,189.54 600.66,189.6 C601.68,189.65 602.69,189.7 603.71,189.75 C604.73,189.81 605.74,189.86 606.76,189.91 C607.77,189.96 608.79,190.01 609.81,190.06 C610.82,190.12 611.84,190.17 612.86,190.22 C613.87,190.28 614.89,190.33 615.91,190.39 C616.92,190.45 617.94,190.51 618.95,190.58 C619.97,190.64 620.99,190.71 622,190.78 C623.02,190.85 624.04,190.92 625.05,191 C626.07,191.08 627.09,191.16 628.1,191.25 C629.12,191.34 630.13,191.43 631.15,191.53 C632.17,191.63 631.01,191.75 634.2,191.84 C637.39,191.94 643.83,192.19 650.3,192.1 C656.77,192.01 669.22,191.43 673,191.3" fill="none" stroke="#1414ff" stroke-width="2.6" stroke-linejoin="round" stroke-linecap="round"/>
<rect x="556.5" y="136.2" width="107.7" height="11.7" fill="#c0f5c0"/>
<text x="558.9" y="144.6" font-size="6.7" font-weight="bold" fill="#111" textLength="104.2" lengthAdjust="spacingAndGlyphs">Increase of n value 1.169 to 1.270</text>
<rect x="615.3" y="11.5" width="58.1" height="45.1" fill="#ffffff" stroke="#a8a8a8" stroke-width="0.8"/>
<line x1="617" y1="16.8" x2="634.2" y2="16.8" stroke="#4a4a4a" stroke-width="2.8" stroke-linecap="round"/>
<text x="636.3" y="19.5" font-size="7.4" font-weight="bold" fill="#111" textLength="35.6" lengthAdjust="spacingAndGlyphs">Pure-PVA</text>
<line x1="617" y1="25.55" x2="634.2" y2="25.55" stroke="#f24a4a" stroke-width="2.8" stroke-linecap="round"/>
<text x="636.3" y="28.25" font-size="7.4" font-weight="bold" fill="#111" textLength="23.8" lengthAdjust="spacingAndGlyphs">PVA-C</text>
<line x1="617" y1="34.3" x2="634.2" y2="34.3" stroke="#1414ff" stroke-width="2.8" stroke-linecap="round"/>
<text x="636.3" y="37" font-size="7.4" font-weight="bold" fill="#111" textLength="35.6" lengthAdjust="spacingAndGlyphs">PVA-C-D1</text>
<line x1="617" y1="43.05" x2="634.2" y2="43.05" stroke="#0b8a0b" stroke-width="2.8" stroke-linecap="round"/>
<text x="636.3" y="45.75" font-size="7.4" font-weight="bold" fill="#111" textLength="35.6" lengthAdjust="spacingAndGlyphs">PVA-C-D2</text>
<line x1="617" y1="51.8" x2="634.2" y2="51.8" stroke="#9914cf" stroke-width="2.8" stroke-linecap="round"/>
<text x="636.3" y="54.5" font-size="7.4" font-weight="bold" fill="#111" textLength="35.6" lengthAdjust="spacingAndGlyphs">PVA-C-D3</text>
<rect x="387.9" y="11.5" width="285.5" height="202.8" fill="none" stroke="#333333" stroke-width="1.1"/>
<line x1="38.1" y1="441.4" x2="42.4" y2="441.4" stroke="#333333" stroke-width="1"/>
<text x="33.9" y="445.4" font-size="9" text-anchor="end" textLength="5.1" lengthAdjust="spacingAndGlyphs">1</text>
<line x1="40" y1="427.57" x2="42.4" y2="427.57" stroke="#333333" stroke-width="1"/>
<line x1="38.1" y1="413.74" x2="42.4" y2="413.74" stroke="#333333" stroke-width="1"/>
<text x="33.9" y="417.74" font-size="9" text-anchor="end" textLength="5.1" lengthAdjust="spacingAndGlyphs">2</text>
<line x1="40" y1="399.91" x2="42.4" y2="399.91" stroke="#333333" stroke-width="1"/>
<line x1="38.1" y1="386.08" x2="42.4" y2="386.08" stroke="#333333" stroke-width="1"/>
<text x="33.9" y="390.08" font-size="9" text-anchor="end" textLength="5.1" lengthAdjust="spacingAndGlyphs">3</text>
<line x1="40" y1="372.25" x2="42.4" y2="372.25" stroke="#333333" stroke-width="1"/>
<line x1="38.1" y1="358.42" x2="42.4" y2="358.42" stroke="#333333" stroke-width="1"/>
<text x="33.9" y="362.42" font-size="9" text-anchor="end" textLength="5.1" lengthAdjust="spacingAndGlyphs">4</text>
<line x1="40" y1="344.59" x2="42.4" y2="344.59" stroke="#333333" stroke-width="1"/>
<line x1="38.1" y1="330.76" x2="42.4" y2="330.76" stroke="#333333" stroke-width="1"/>
<text x="33.9" y="334.76" font-size="9" text-anchor="end" textLength="5.1" lengthAdjust="spacingAndGlyphs">5</text>
<line x1="40" y1="316.93" x2="42.4" y2="316.93" stroke="#333333" stroke-width="1"/>
<line x1="38.1" y1="303.1" x2="42.4" y2="303.1" stroke="#333333" stroke-width="1"/>
<text x="33.9" y="307.1" font-size="9" text-anchor="end" textLength="5.1" lengthAdjust="spacingAndGlyphs">6</text>
<line x1="40" y1="289.27" x2="42.4" y2="289.27" stroke="#333333" stroke-width="1"/>
<line x1="38.1" y1="275.44" x2="42.4" y2="275.44" stroke="#333333" stroke-width="1"/>
<text x="33.9" y="279.44" font-size="9" text-anchor="end" textLength="5.1" lengthAdjust="spacingAndGlyphs">7</text>
<line x1="40" y1="261.61" x2="42.4" y2="261.61" stroke="#333333" stroke-width="1"/>
<line x1="38.1" y1="247.78" x2="42.4" y2="247.78" stroke="#333333" stroke-width="1"/>
<text x="33.9" y="251.78" font-size="9" text-anchor="end" textLength="5.1" lengthAdjust="spacingAndGlyphs">8</text>
<line x1="48.6" y1="441.4" x2="48.6" y2="444.9" stroke="#333333" stroke-width="1"/>
<text x="47.4" y="455.6" font-size="9.5" text-anchor="middle" textLength="16.5" lengthAdjust="spacingAndGlyphs">200</text>
<line x1="80.96" y1="441.4" x2="80.96" y2="444.9" stroke="#333333" stroke-width="1"/>
<text x="79.76" y="455.6" font-size="9.5" text-anchor="middle" textLength="16.5" lengthAdjust="spacingAndGlyphs">300</text>
<line x1="113.32" y1="441.4" x2="113.32" y2="444.9" stroke="#333333" stroke-width="1"/>
<text x="112.12" y="455.6" font-size="9.5" text-anchor="middle" textLength="16.5" lengthAdjust="spacingAndGlyphs">400</text>
<line x1="145.68" y1="441.4" x2="145.68" y2="444.9" stroke="#333333" stroke-width="1"/>
<text x="144.48" y="455.6" font-size="9.5" text-anchor="middle" textLength="16.5" lengthAdjust="spacingAndGlyphs">500</text>
<line x1="178.04" y1="441.4" x2="178.04" y2="444.9" stroke="#333333" stroke-width="1"/>
<text x="176.84" y="455.6" font-size="9.5" text-anchor="middle" textLength="16.5" lengthAdjust="spacingAndGlyphs">600</text>
<line x1="210.4" y1="441.4" x2="210.4" y2="444.9" stroke="#333333" stroke-width="1"/>
<text x="209.2" y="455.6" font-size="9.5" text-anchor="middle" textLength="16.5" lengthAdjust="spacingAndGlyphs">700</text>
<line x1="242.76" y1="441.4" x2="242.76" y2="444.9" stroke="#333333" stroke-width="1"/>
<text x="241.56" y="455.6" font-size="9.5" text-anchor="middle" textLength="16.5" lengthAdjust="spacingAndGlyphs">800</text>
<line x1="275.12" y1="441.4" x2="275.12" y2="444.9" stroke="#333333" stroke-width="1"/>
<text x="273.92" y="455.6" font-size="9.5" text-anchor="middle" textLength="16.5" lengthAdjust="spacingAndGlyphs">900</text>
<line x1="307.48" y1="441.4" x2="307.48" y2="444.9" stroke="#333333" stroke-width="1"/>
<text x="306.28" y="455.6" font-size="9.5" text-anchor="middle" textLength="21" lengthAdjust="spacingAndGlyphs">1000</text>
<line x1="339.84" y1="441.4" x2="339.84" y2="444.9" stroke="#333333" stroke-width="1"/>
<text x="338.64" y="455.6" font-size="9.5" text-anchor="middle" textLength="21" lengthAdjust="spacingAndGlyphs">1100</text>
<text x="25.6" y="342.8" font-size="10.5" text-anchor="middle" font-weight="bold" fill="#111" textLength="119" lengthAdjust="spacingAndGlyphs" transform="rotate(-90 25.6 342.8)">Dielectric constant (ε1)</text>
<text x="186.2" y="466.4" font-size="9.7" text-anchor="middle" font-weight="bold" fill="#111" textLength="96.6" lengthAdjust="spacingAndGlyphs">Wavelength (nm)</text>
<text x="44.5" y="257.8" font-size="14" font-weight="bold" fill="#111" textLength="16.8" lengthAdjust="spacingAndGlyphs">(c)</text>
<line x1="51" y1="425" x2="340.3" y2="425" stroke="#111" stroke-width="0.9" stroke-dasharray="1 1.1"/>
<path d="M43.6,425 L50.8,423.1 L50.8,426.9 Z" fill="#000"/>
<line x1="51" y1="430.6" x2="340.3" y2="430.6" stroke="#111" stroke-width="0.9" stroke-dasharray="1 1.1"/>
<path d="M43.6,430.6 L50.8,428.7 L50.8,432.5 Z" fill="#000"/>
<path d="M45.1,310.4 C45.25,312.63 45.77,318.1 46,323.8 C46.23,329.5 46.27,337.65 46.5,344.6 C46.73,351.55 47,359.53 47.4,365.5 C47.8,371.47 48.15,375.93 48.9,380.4 C49.65,384.87 50.65,388.33 51.9,392.3 C53.15,396.27 54.92,400.73 56.4,404.2 C57.88,407.67 59.48,411.03 60.8,413.1 C62.12,415.17 62.75,415.8 64.3,416.6 C65.85,417.4 67.82,417.2 70.1,417.9 C72.38,418.6 75.08,419.72 78,420.8 C80.92,421.88 84.02,423.3 87.6,424.4 C91.18,425.5 95.03,426.6 99.5,427.4 C103.97,428.2 107.65,428.7 114.4,429.2 C121.15,429.7 125.73,430.13 140,430.4 C154.27,430.67 166.67,430.72 200,430.8 C233.33,430.88 316.67,430.88 340,430.9" fill="none" stroke="#4a4a4a" stroke-width="2.6" stroke-linejoin="round" stroke-linecap="round"/>
<path d="M45.1,293.7 C45.22,292.12 45.48,286.52 45.8,284.2 C46.12,281.88 46.5,280.65 47,279.8 C47.5,278.95 48.15,279.1 48.8,279.1 C49.45,279.1 50.33,278.95 50.9,279.8 C51.47,280.65 51.9,281.03 52.2,284.2 C52.5,287.37 52.58,291.2 52.7,298.8 C52.82,306.4 52.68,319.68 52.9,329.8 C53.12,339.92 53.42,351.07 54,359.5 C54.58,367.93 55.27,373.95 56.4,380.4 C57.53,386.85 59.07,394.33 60.8,398.2 C62.53,402.07 64.57,402.6 66.8,403.6 C69.03,404.6 71.97,403.37 74.2,404.2 C76.43,405.03 77.97,407.12 80.2,408.6 C82.43,410.08 85.37,411.6 87.6,413.1 C89.83,414.6 91.62,416.12 93.6,417.6 C95.58,419.08 97.02,420.52 99.5,422 C101.98,423.48 104.53,425.35 108.5,426.5 C112.47,427.65 118.05,428.33 123.3,428.9 C128.55,429.47 127.22,429.63 140,429.9 C152.78,430.17 166.67,430.37 200,430.5 C233.33,430.63 316.67,430.67 340,430.7" fill="none" stroke="#f24a4a" stroke-width="2.6" stroke-linejoin="round" stroke-linecap="round"/>
<path d="M45.1,279 C45.72,279.12 47.47,279.37 48.8,279.7 C50.13,280.03 51.65,280.53 53.1,281 C54.55,281.47 55.92,281.78 57.5,282.5 C59.08,283.22 61.13,285.05 62.6,285.3 C64.07,285.55 64.95,284.55 66.3,284 C67.65,283.45 69.25,282.47 70.7,282 C72.15,281.53 73.3,281.1 75,281.2 C76.7,281.3 79.18,282.6 80.9,282.6 C82.62,282.6 83.85,281.63 85.3,281.2 C86.75,280.77 88.38,280.3 89.6,280 C90.82,279.7 91.38,279.65 92.6,279.4 C93.82,279.15 95.45,278.57 96.9,278.5 C98.35,278.43 100.08,278.67 101.3,279 C102.52,279.33 102.73,279.88 104.2,280.5 C105.67,281.12 108.05,282.65 110.1,282.7 C112.15,282.75 114.4,281.38 116.5,280.8 C118.6,280.22 120.9,280.08 122.7,279.2 C124.5,278.32 125.77,275.5 127.3,275.5 C128.83,275.5 130.68,277.88 131.9,279.2 C133.12,280.52 133.73,281.84 134.6,283.39 C135.47,284.95 136.29,286.78 137.13,288.54 C137.97,290.3 138.81,292.12 139.66,293.96 C140.5,295.81 141.34,297.7 142.18,299.61 C143.03,301.51 143.87,303.45 144.71,305.4 C145.56,307.35 146.4,309.32 147.24,311.29 C148.08,313.25 148.93,315.23 149.77,317.2 C150.61,319.17 151.45,321.14 152.3,323.08 C153.14,325.03 153.98,326.96 154.83,328.87 C155.67,330.77 156.51,332.66 157.35,334.52 C158.2,336.37 159.04,338.2 159.88,339.99 C160.72,341.78 161.57,343.54 162.41,345.25 C163.25,346.96 164.1,348.63 164.94,350.26 C165.78,351.88 166.62,353.46 167.47,354.98 C168.31,356.5 169.15,357.97 169.99,359.39 C170.84,360.81 171.68,362.17 172.52,363.5 C173.37,364.82 174.21,366.09 175.05,367.33 C175.89,368.56 176.74,369.75 177.58,370.91 C178.42,372.06 179.26,373.17 180.11,374.25 C180.95,375.33 181.79,376.37 182.64,377.38 C183.48,378.4 184.32,379.37 185.16,380.32 C186.01,381.28 186.85,382.2 187.69,383.09 C188.53,383.99 189.38,384.86 190.22,385.72 C191.06,386.57 191.91,387.4 192.75,388.21 C193.59,389.02 194.43,389.81 195.28,390.58 C196.12,391.35 196.96,392.1 197.8,392.84 C198.65,393.57 199.49,394.28 200.33,394.97 C201.18,395.67 202.02,396.34 202.86,397 C203.7,397.66 204.55,398.29 205.39,398.92 C206.23,399.54 207.07,400.14 207.92,400.73 C208.76,401.31 209.6,401.88 210.45,402.43 C211.29,402.99 212.13,403.52 212.97,404.04 C213.82,404.56 214.66,405.07 215.5,405.56 C216.34,406.04 217.19,406.52 218.03,406.98 C218.87,407.43 219.72,407.88 220.56,408.31 C221.4,408.73 222.24,409.15 223.09,409.55 C223.93,409.95 224.77,410.33 225.61,410.71 C226.46,411.08 227.3,411.44 228.14,411.79 C228.98,412.13 229.83,412.47 230.67,412.79 C231.51,413.11 232.36,413.42 233.2,413.72 C234.04,414.02 234.88,414.3 235.73,414.58 C236.57,414.85 237.41,415.11 238.25,415.37 C239.1,415.62 239.94,415.86 240.78,416.09 C241.63,416.32 242.47,416.54 243.31,416.76 C244.15,416.97 245,417.17 245.84,417.36 C246.68,417.56 247.52,417.74 248.37,417.92 C249.21,418.09 250.05,418.26 250.9,418.42 C251.74,418.57 252.58,418.72 253.42,418.87 C254.27,419.01 255.11,419.15 255.95,419.28 C256.79,419.4 257.64,419.53 258.48,419.64 C259.32,419.76 260.17,419.86 261.01,419.97 C261.85,420.07 262.69,420.17 263.54,420.26 C264.38,420.35 265.22,420.43 266.06,420.52 C266.91,420.6 267.75,420.67 268.59,420.74 C269.44,420.82 270.28,420.88 271.12,420.95 C271.96,421.01 272.81,421.07 273.65,421.13 C274.49,421.19 275.33,421.24 276.18,421.29 C277.02,421.34 277.86,421.39 278.71,421.43 C279.55,421.48 280.39,421.52 281.23,421.56 C282.08,421.61 282.92,421.65 283.76,421.69 C284.6,421.72 285.45,421.76 286.29,421.8 C287.13,421.84 287.98,421.87 288.82,421.91 C289.66,421.95 290.5,421.98 291.35,422.02 C292.19,422.06 293.03,422.09 293.87,422.13 C294.72,422.17 295.56,422.21 296.4,422.25 C297.25,422.29 298.09,422.33 298.93,422.38 C299.77,422.42 300.62,422.47 301.46,422.52 C302.3,422.57 303.14,422.62 303.99,422.68 C304.83,422.73 305.67,422.79 306.52,422.85 C307.36,422.91 308.2,422.98 309.04,423.05 C309.89,423.11 310.73,423.19 311.57,423.27 C312.41,423.34 310.46,423.46 314.1,423.52 C317.74,423.57 329.65,423.72 333.4,423.6 C337.15,423.48 335.5,423.08 336.6,422.8 C337.7,422.52 339.43,422.05 340,421.9" fill="none" stroke="#9914cf" stroke-width="2.6" stroke-linejoin="round" stroke-linecap="round"/>
<path d="M45.1,278.4 C45.72,278.52 47.47,278.75 48.8,279.1 C50.13,279.45 51.65,280.02 53.1,280.5 C54.55,280.98 55.92,281.27 57.5,282 C59.08,282.73 61.13,284.65 62.6,284.9 C64.07,285.15 64.95,284.1 66.3,283.5 C67.65,282.9 69.25,281.8 70.7,281.3 C72.15,280.8 73.3,280.38 75,280.5 C76.7,280.62 79.18,282 80.9,282 C82.62,282 83.85,280.98 85.3,280.5 C86.75,280.02 88.38,279.45 89.6,279.1 C90.82,278.75 91.38,278.77 92.6,278.4 C93.82,278.03 95.45,277.03 96.9,276.9 C98.35,276.77 100.08,277.23 101.3,277.6 C102.52,277.97 102.98,278.48 104.2,279.1 C105.42,279.72 107.38,280.93 108.6,281.3 C109.82,281.67 110.52,281.92 111.5,281.3 C112.48,280.68 113.4,278.58 114.5,277.6 C115.6,276.62 116.88,275.4 118.1,275.4 C119.32,275.4 120.65,276.38 121.8,277.6 C122.95,278.82 124.05,280.85 125,282.73 C125.95,284.61 126.68,286.82 127.52,288.89 C128.36,290.95 129.2,293.04 130.04,295.12 C130.88,297.21 131.72,299.3 132.56,301.39 C133.4,303.47 134.24,305.56 135.09,307.63 C135.93,309.7 136.77,311.77 137.61,313.81 C138.45,315.85 139.29,317.88 140.13,319.88 C140.97,321.87 141.81,323.85 142.65,325.79 C143.49,327.73 144.33,329.64 145.17,331.51 C146.01,333.38 146.85,335.21 147.69,337 C148.53,338.79 149.37,340.54 150.21,342.24 C151.05,343.94 151.89,345.59 152.73,347.2 C153.58,348.8 154.42,350.35 155.26,351.86 C156.1,353.37 156.94,354.83 157.78,356.25 C158.62,357.67 159.46,359.05 160.3,360.39 C161.14,361.72 161.98,363.02 162.82,364.28 C163.66,365.54 164.5,366.75 165.34,367.94 C166.18,369.12 167.02,370.27 167.86,371.38 C168.7,372.5 169.54,373.57 170.38,374.62 C171.22,375.67 172.06,376.69 172.91,377.68 C173.75,378.67 174.59,379.63 175.43,380.56 C176.27,381.5 177.11,382.4 177.95,383.29 C178.79,384.17 179.63,385.03 180.47,385.87 C181.31,386.7 182.15,387.52 182.99,388.32 C183.83,389.11 184.67,389.89 185.51,390.65 C186.35,391.4 187.19,392.14 188.03,392.86 C188.87,393.58 189.71,394.28 190.55,394.97 C191.4,395.65 192.24,396.31 193.08,396.96 C193.92,397.61 194.76,398.24 195.6,398.85 C196.44,399.46 197.28,400.05 198.12,400.63 C198.96,401.21 199.8,401.77 200.64,402.32 C201.48,402.86 202.32,403.39 203.16,403.91 C204,404.42 204.84,404.92 205.68,405.4 C206.52,405.88 207.36,406.35 208.2,406.8 C209.04,407.26 209.88,407.7 210.73,408.12 C211.57,408.55 212.41,408.96 213.25,409.35 C214.09,409.75 214.93,410.14 215.77,410.51 C216.61,410.88 217.45,411.23 218.29,411.58 C219.13,411.93 219.97,412.26 220.81,412.58 C221.65,412.9 222.49,413.21 223.33,413.51 C224.17,413.8 225.01,414.09 225.85,414.37 C226.69,414.64 227.53,414.9 228.37,415.16 C229.22,415.41 230.06,415.66 230.9,415.89 C231.74,416.12 232.58,416.35 233.42,416.56 C234.26,416.78 235.1,416.98 235.94,417.18 C236.78,417.37 237.62,417.56 238.46,417.74 C239.3,417.92 240.14,418.09 240.98,418.25 C241.82,418.42 242.66,418.57 243.5,418.72 C244.34,418.87 245.18,419.01 246.02,419.14 C246.86,419.28 247.7,419.4 248.55,419.53 C249.39,419.65 250.23,419.76 251.07,419.87 C251.91,419.98 252.75,420.08 253.59,420.18 C254.43,420.28 255.27,420.37 256.11,420.46 C256.95,420.55 257.79,420.63 258.63,420.71 C259.47,420.79 260.31,420.87 261.15,420.94 C261.99,421.01 262.83,421.08 263.67,421.15 C264.51,421.21 265.35,421.28 266.19,421.34 C267.04,421.4 267.88,421.45 268.72,421.51 C269.56,421.56 270.4,421.62 271.24,421.67 C272.08,421.72 272.92,421.77 273.76,421.82 C274.6,421.87 275.44,421.91 276.28,421.96 C277.12,422.01 277.96,422.06 278.8,422.1 C279.64,422.15 280.48,422.2 281.32,422.25 C282.16,422.29 283,422.34 283.84,422.39 C284.68,422.44 285.52,422.49 286.37,422.54 C287.21,422.6 288.05,422.65 288.89,422.71 C289.73,422.76 290.57,422.82 291.41,422.88 C292.25,422.94 293.09,423 293.93,423.07 C294.77,423.14 295.61,423.21 296.45,423.28 C297.29,423.35 298.13,423.43 298.97,423.51 C299.81,423.59 300.65,423.68 301.49,423.77 C302.33,423.86 303.17,423.95 304.01,424.05 C304.86,424.15 305.7,424.26 306.54,424.37 C307.38,424.48 308.22,424.6 309.06,424.72 C309.9,424.84 310.74,424.97 311.58,425.11 C312.42,425.25 310.46,425.44 314.1,425.54 C317.74,425.64 329.65,425.79 333.4,425.7 C337.15,425.61 335.5,425.32 336.6,425 C337.7,424.68 339.43,424 340,423.8" fill="none" stroke="#0b8a0b" stroke-width="2.6" stroke-linejoin="round" stroke-linecap="round"/>
<path d="M45.1,277.6 C45.47,277.37 46.45,276.07 47.3,276.2 C48.15,276.33 49.23,277.55 50.2,278.4 C51.17,279.25 52.12,281.18 53.1,281.3 C54.08,281.42 55.12,279.23 56.1,279.1 C57.08,278.97 57.92,280.02 59,280.5 C60.08,280.98 61.38,282.35 62.6,282 C63.82,281.65 64.95,279.25 66.3,278.4 C67.65,277.55 69.25,277.27 70.7,276.9 C72.15,276.53 73.67,276.2 75,276.2 C76.33,276.2 77.48,276.9 78.7,276.9 C79.92,276.9 80.97,276.45 82.3,276.2 C83.63,275.95 85.23,275.4 86.7,275.4 C88.17,275.4 89.77,275.95 91.1,276.2 C92.43,276.45 93.98,276.63 94.7,276.9 C95.42,277.17 94.98,277.23 95.4,277.8 C95.82,278.37 96.58,279.07 97.2,280.3 C97.82,281.53 98.48,283.15 99.1,285.2 C99.72,287.25 100.28,290.1 100.9,292.6 C101.52,295.1 102.06,297.32 102.8,300.19 C103.54,303.05 104.48,306.69 105.32,309.77 C106.16,312.86 107,315.83 107.84,318.7 C108.68,321.56 109.51,324.32 110.35,326.99 C111.19,329.65 112.03,332.21 112.87,334.68 C113.71,337.14 114.55,339.51 115.39,341.79 C116.23,344.07 117.07,346.26 117.91,348.37 C118.75,350.47 119.59,352.49 120.42,354.43 C121.26,356.37 122.1,358.22 122.94,360.01 C123.78,361.79 124.62,363.49 125.46,365.13 C126.3,366.77 127.14,368.33 127.98,369.83 C128.82,371.33 129.66,372.77 130.5,374.14 C131.34,375.52 132.17,376.83 133.01,378.09 C133.85,379.35 134.69,380.55 135.53,381.7 C136.37,382.85 137.21,383.95 138.05,385.01 C138.89,386.06 139.73,387.07 140.57,388.04 C141.41,389.01 142.25,389.94 143.09,390.83 C143.93,391.73 144.76,392.58 145.6,393.41 C146.44,394.24 147.28,395.03 148.12,395.8 C148.96,396.57 149.8,397.32 150.64,398.04 C151.48,398.76 152.32,399.46 153.16,400.14 C154,400.82 154.84,401.48 155.68,402.12 C156.51,402.75 157.35,403.37 158.19,403.97 C159.03,404.56 159.87,405.14 160.71,405.7 C161.55,406.25 162.39,406.79 163.23,407.31 C164.07,407.83 164.91,408.33 165.75,408.82 C166.59,409.3 167.42,409.77 168.26,410.22 C169.1,410.67 169.94,411.1 170.78,411.52 C171.62,411.93 172.46,412.33 173.3,412.72 C174.14,413.1 174.98,413.47 175.82,413.83 C176.66,414.19 177.5,414.53 178.34,414.85 C179.18,415.18 180.01,415.5 180.85,415.8 C181.69,416.1 182.53,416.38 183.37,416.66 C184.21,416.94 185.05,417.2 185.89,417.45 C186.73,417.71 187.57,417.95 188.41,418.18 C189.25,418.41 190.09,418.63 190.93,418.84 C191.76,419.05 192.6,419.25 193.44,419.44 C194.28,419.63 195.12,419.82 195.96,419.99 C196.8,420.16 197.64,420.33 198.48,420.49 C199.32,420.65 200.16,420.8 201,420.94 C201.84,421.09 202.67,421.23 203.51,421.36 C204.35,421.49 205.19,421.62 206.03,421.74 C206.87,421.86 207.71,421.98 208.55,422.09 C209.39,422.2 210.23,422.31 211.07,422.41 C211.91,422.52 212.75,422.62 213.59,422.72 C214.43,422.82 215.26,422.91 216.1,423 C216.94,423.1 217.78,423.19 218.62,423.28 C219.46,423.37 220.3,423.46 221.14,423.55 C221.98,423.64 222.82,423.73 223.66,423.82 C224.5,423.9 225.34,423.99 226.18,424.08 C227.01,424.18 227.85,424.27 228.69,424.36 C229.53,424.45 230.37,424.55 231.21,424.65 C232.05,424.75 232.89,424.85 233.73,424.95 C234.57,425.06 235.41,425.17 236.25,425.28 C237.09,425.39 237.93,425.51 238.76,425.63 C239.6,425.75 240.44,425.88 241.28,426.02 C242.12,426.15 240.95,426.22 243.8,426.43 C246.65,426.65 253.53,427.06 258.4,427.3 C263.27,427.54 266.07,427.68 273,427.9 C279.93,428.12 292.17,428.43 300,428.6 C307.83,428.77 313.32,428.85 320,428.9 C326.68,428.95 336.75,428.9 340.1,428.9" fill="none" stroke="#1414ff" stroke-width="2.6" stroke-linejoin="round" stroke-linecap="round"/>
<rect x="201.1" y="359.3" width="126.7" height="11.1" fill="#c0f5c0"/>
<text x="202.8" y="367" font-size="6.7" font-weight="bold" fill="#111" textLength="123" lengthAdjust="spacingAndGlyphs">Increase of <tspan font-weight="normal">ε1</tspan> value from 1.366 to 1.609</text>
<rect x="283.3" y="244.7" width="57" height="44.9" fill="#ffffff" stroke="#a8a8a8" stroke-width="0.8"/>
<line x1="285" y1="249.6" x2="301.6" y2="249.6" stroke="#4a4a4a" stroke-width="2.8" stroke-linecap="round"/>
<text x="303.9" y="252.3" font-size="7.4" font-weight="bold" fill="#111" textLength="34.4" lengthAdjust="spacingAndGlyphs">Pure-PVA</text>
<line x1="285" y1="258.3" x2="301.6" y2="258.3" stroke="#f24a4a" stroke-width="2.8" stroke-linecap="round"/>
<text x="303.9" y="261" font-size="7.4" font-weight="bold" fill="#111" textLength="23.5" lengthAdjust="spacingAndGlyphs">PVA-C</text>
<line x1="285" y1="267" x2="301.6" y2="267" stroke="#1414ff" stroke-width="2.8" stroke-linecap="round"/>
<text x="303.9" y="269.7" font-size="7.4" font-weight="bold" fill="#111" textLength="27.7" lengthAdjust="spacingAndGlyphs">PVA-D1</text>
<line x1="285" y1="275.7" x2="301.6" y2="275.7" stroke="#0b8a0b" stroke-width="2.8" stroke-linecap="round"/>
<text x="303.9" y="278.4" font-size="7.4" font-weight="bold" fill="#111" textLength="27.7" lengthAdjust="spacingAndGlyphs">PVA-D2</text>
<line x1="285" y1="284.4" x2="301.6" y2="284.4" stroke="#9914cf" stroke-width="2.8" stroke-linecap="round"/>
<text x="303.9" y="287.1" font-size="7.4" font-weight="bold" fill="#111" textLength="27.7" lengthAdjust="spacingAndGlyphs">PVA-D3</text>
<rect x="42.4" y="244.7" width="297.9" height="196.7" fill="none" stroke="#333333" stroke-width="1.1"/>
<line x1="381.1" y1="442.7" x2="385.4" y2="442.7" stroke="#333333" stroke-width="1"/>
<text x="378.2" y="445.4" font-size="9" text-anchor="end">-1</text>
<line x1="383" y1="426.25" x2="385.4" y2="426.25" stroke="#333333" stroke-width="1"/>
<line x1="381.1" y1="409.8" x2="385.4" y2="409.8" stroke="#333333" stroke-width="1"/>
<text x="378.2" y="412.5" font-size="9" text-anchor="end">0</text>
<line x1="383" y1="393.35" x2="385.4" y2="393.35" stroke="#333333" stroke-width="1"/>
<line x1="381.1" y1="376.9" x2="385.4" y2="376.9" stroke="#333333" stroke-width="1"/>
<text x="378.2" y="379.6" font-size="9" text-anchor="end">1</text>
<line x1="383" y1="360.45" x2="385.4" y2="360.45" stroke="#333333" stroke-width="1"/>
<line x1="381.1" y1="344" x2="385.4" y2="344" stroke="#333333" stroke-width="1"/>
<text x="378.2" y="346.7" font-size="9" text-anchor="end">2</text>
<line x1="383" y1="327.55" x2="385.4" y2="327.55" stroke="#333333" stroke-width="1"/>
<line x1="381.1" y1="311.1" x2="385.4" y2="311.1" stroke="#333333" stroke-width="1"/>
<text x="378.2" y="313.8" font-size="9" text-anchor="end">3</text>
<line x1="383" y1="294.65" x2="385.4" y2="294.65" stroke="#333333" stroke-width="1"/>
<line x1="381.1" y1="278.2" x2="385.4" y2="278.2" stroke="#333333" stroke-width="1"/>
<text x="378.2" y="280.9" font-size="9" text-anchor="end">4</text>
<line x1="383" y1="261.75" x2="385.4" y2="261.75" stroke="#333333" stroke-width="1"/>
<line x1="381.1" y1="245.3" x2="385.4" y2="245.3" stroke="#333333" stroke-width="1"/>
<text x="378.2" y="248" font-size="9" text-anchor="end">5</text>
<line x1="385.4" y1="442.6" x2="385.4" y2="446.1" stroke="#333333" stroke-width="1"/>
<text x="385.4" y="456.4" font-size="9" text-anchor="middle">1</text>
<line x1="409.65" y1="442.6" x2="409.65" y2="444.8" stroke="#333333" stroke-width="1"/>
<line x1="433.9" y1="442.6" x2="433.9" y2="446.1" stroke="#333333" stroke-width="1"/>
<text x="433.9" y="456.4" font-size="9" text-anchor="middle">2</text>
<line x1="458.15" y1="442.6" x2="458.15" y2="444.8" stroke="#333333" stroke-width="1"/>
<line x1="482.4" y1="442.6" x2="482.4" y2="446.1" stroke="#333333" stroke-width="1"/>
<text x="482.4" y="456.4" font-size="9" text-anchor="middle">3</text>
<line x1="506.65" y1="442.6" x2="506.65" y2="444.8" stroke="#333333" stroke-width="1"/>
<line x1="530.9" y1="442.6" x2="530.9" y2="446.1" stroke="#333333" stroke-width="1"/>
<text x="530.9" y="456.4" font-size="9" text-anchor="middle">4</text>
<line x1="555.15" y1="442.6" x2="555.15" y2="444.8" stroke="#333333" stroke-width="1"/>
<line x1="579.4" y1="442.6" x2="579.4" y2="446.1" stroke="#333333" stroke-width="1"/>
<text x="579.4" y="456.4" font-size="9" text-anchor="middle">5</text>
<line x1="603.65" y1="442.6" x2="603.65" y2="444.8" stroke="#333333" stroke-width="1"/>
<line x1="627.9" y1="442.6" x2="627.9" y2="446.1" stroke="#333333" stroke-width="1"/>
<text x="627.9" y="456.4" font-size="9" text-anchor="middle">6</text>
<line x1="652.15" y1="442.6" x2="652.15" y2="444.8" stroke="#333333" stroke-width="1"/>
<line x1="676.4" y1="442.6" x2="676.4" y2="446.1" stroke="#333333" stroke-width="1"/>
<text x="676.4" y="456.4" font-size="9" text-anchor="middle">7</text>
<text x="369.9" y="337.6" font-size="10.5" text-anchor="middle" font-weight="bold" fill="#111" textLength="23" lengthAdjust="spacingAndGlyphs" transform="rotate(-90 369.9 337.6)">ln(α)</text>
<text x="508" y="463.9" font-size="10.3" text-anchor="middle" font-weight="bold" fill="#111" textLength="34.5" lengthAdjust="spacingAndGlyphs">hν(eV)</text>
<text x="385.9" y="257.3" font-size="14" font-weight="bold" fill="#111" textLength="18.8" lengthAdjust="spacingAndGlyphs">(d)</text>
<path d="M390.5,409.2 C392.67,409.35 398.25,410.2 403.5,410.1 C408.75,410 415.85,409.12 422,408.6 C428.15,408.08 434.25,407.62 440.4,407 C446.55,406.38 452.73,405.73 458.9,404.9 C465.07,404.07 472.42,402.88 477.4,402 C482.38,401.12 484.72,400.9 488.8,399.6 C492.88,398.3 498.5,395.82 501.9,394.2 C505.3,392.58 506.77,391.35 509.2,389.9 C511.63,388.45 514.07,386.85 516.5,385.5 C518.93,384.15 521.37,383.02 523.8,381.8 C526.23,380.58 528.67,379.42 531.1,378.2 C533.53,376.98 535.97,375.72 538.4,374.5 C540.83,373.28 543.27,371.87 545.7,370.9 C548.13,369.93 550.57,369.23 553,368.7 C555.43,368.17 557.87,368.07 560.3,367.7 C562.73,367.33 565.15,366.95 567.6,366.5 C570.05,366.05 572.4,366.03 575,365 C577.6,363.97 580.47,362.1 583.2,360.3 C585.93,358.5 588.67,356.42 591.4,354.2 C594.13,351.98 596.85,349.4 599.6,347 C602.35,344.6 605.15,342.02 607.9,339.8 C610.65,337.58 613.37,335.42 616.1,333.7 C618.83,331.98 621.57,331.05 624.3,329.5 C627.03,327.95 630.1,326.45 632.5,324.4 C634.9,322.35 636.65,320.1 638.7,317.2 C640.75,314.3 642.92,310.42 644.8,307 C646.68,303.58 648.45,299.62 650,296.7 C651.55,293.78 653.42,290.7 654.1,289.5" fill="none" stroke="#4a4a4a" stroke-width="2.6" stroke-linejoin="round" stroke-linecap="round"/>
<path d="M390.5,416.3 C392.67,416.45 398.25,416.95 403.5,417.2 C408.75,417.45 415.85,417.95 422,417.8 C428.15,417.65 434.25,417.22 440.4,416.3 C446.55,415.38 452.73,414.1 458.9,412.3 C465.07,410.5 472.42,407.55 477.4,405.5 C482.38,403.45 485.93,401.63 488.8,400 C491.67,398.37 492.42,397.38 494.6,395.7 C496.78,394.02 499.47,392.33 501.9,389.9 C504.33,387.47 506.77,383.9 509.2,381.1 C511.63,378.3 514.07,375.42 516.5,373.1 C518.93,370.78 521.37,368.78 523.8,367.2 C526.23,365.62 528.67,364.93 531.1,363.6 C533.53,362.27 535.97,360.67 538.4,359.2 C540.83,357.73 543.27,355.9 545.7,354.8 C548.13,353.7 550.57,352.97 553,352.6 C555.43,352.23 557.87,352.72 560.3,352.6 C562.73,352.48 565.15,352.23 567.6,351.9 C570.05,351.57 572.4,351.42 575,350.6 C577.6,349.78 580.47,348.63 583.2,347 C585.93,345.37 588.67,343.37 591.4,340.8 C594.13,338.23 596.85,334.85 599.6,331.6 C602.35,328.35 605.5,324.9 607.9,321.3 C610.3,317.7 612.3,313.77 614,310 C615.7,306.23 616.9,302.12 618.1,298.7 C619.3,295.28 620.17,291.95 621.2,289.5 C622.23,287.05 622.77,285.13 624.3,284 C625.83,282.87 628,282.92 630.4,282.7 C632.8,282.48 636.3,282.48 638.7,282.7 C641.1,282.92 642.75,283.45 644.8,284 C646.85,284.55 649.45,285.25 651,286 C652.55,286.75 653.58,288.08 654.1,288.5" fill="none" stroke="#f24a4a" stroke-width="2.6" stroke-linejoin="round" stroke-linecap="round"/>
<path d="M390.5,393.2 C390.72,394.23 391.18,398.12 391.8,399.4 C392.42,400.68 393.38,400.89 394.2,400.9 C395.02,400.91 395.88,400.07 396.72,399.46 C397.55,398.85 398.39,398.09 399.23,397.24 C400.07,396.39 400.91,395.41 401.75,394.36 C402.59,393.3 403.43,392.14 404.26,390.91 C405.1,389.69 405.94,388.37 406.78,387.02 C407.62,385.66 408.46,384.23 409.3,382.77 C410.14,381.32 410.97,379.8 411.81,378.29 C412.65,376.77 413.49,375.22 414.33,373.67 C415.17,372.12 416.01,370.55 416.85,368.98 C417.68,367.41 418.52,365.83 419.36,364.26 C420.2,362.68 421.04,361.1 421.88,359.53 C422.72,357.97 423.55,356.4 424.39,354.85 C425.23,353.29 426.07,351.75 426.91,350.22 C427.75,348.7 428.59,347.19 429.43,345.7 C430.26,344.22 431.1,342.75 431.94,341.31 C432.78,339.87 433.62,338.45 434.46,337.05 C435.3,335.65 436.14,334.27 436.97,332.91 C437.81,331.56 438.65,330.22 439.49,328.9 C440.33,327.58 441.17,326.28 442.01,325 C442.85,323.72 443.68,322.46 444.52,321.21 C445.36,319.96 446.2,318.74 447.04,317.53 C447.88,316.31 448.72,315.12 449.55,313.94 C450.39,312.76 451.23,311.6 452.07,310.46 C452.91,309.31 453.75,308.18 454.59,307.06 C455.43,305.94 456.26,304.84 457.1,303.75 C457.94,302.66 458.78,301.58 459.62,300.51 C460.46,299.45 461.3,298.4 462.14,297.36 C462.97,296.32 463.81,295.29 464.65,294.27 C465.49,293.25 466.33,292.25 467.17,291.25 C468.01,290.25 468.85,289.27 469.68,288.29 C470.52,287.31 470.55,286.67 472.2,285.38 C473.85,284.1 477.3,281.58 479.6,280.6 C481.9,279.62 484.05,279.62 486,279.5 C487.95,279.38 488.63,279.53 491.3,279.9 C493.97,280.27 498.17,281.45 502,281.7 C505.83,281.95 508.8,281.55 514.3,281.4 C519.8,281.25 531.55,280.9 535,280.8" fill="none" stroke="#9914cf" stroke-width="2.6" stroke-linejoin="round" stroke-linecap="round"/>
<path d="M390.5,396.3 C390.87,397.42 391.95,401.81 392.7,403 C393.45,404.19 394.2,403.73 395,403.44 C395.8,403.15 396.69,402.07 397.53,401.27 C398.37,400.48 399.22,399.61 400.06,398.68 C400.9,397.76 401.75,396.76 402.59,395.72 C403.43,394.68 404.27,393.57 405.12,392.43 C405.96,391.28 406.8,390.08 407.65,388.85 C408.49,387.62 409.33,386.34 410.18,385.04 C411.02,383.73 411.86,382.39 412.71,381.03 C413.55,379.67 414.39,378.28 415.24,376.88 C416.08,375.48 416.92,374.06 417.76,372.63 C418.61,371.2 419.45,369.76 420.29,368.33 C421.14,366.89 421.98,365.44 422.82,364 C423.67,362.56 424.51,361.12 425.35,359.68 C426.2,358.24 427.04,356.81 427.88,355.38 C428.73,353.95 429.57,352.53 430.41,351.12 C431.25,349.72 432.1,348.32 432.94,346.93 C433.78,345.55 434.63,344.18 435.47,342.83 C436.31,341.47 437.16,340.14 438,338.82 C438.84,337.51 439.69,336.22 440.53,334.95 C441.37,333.68 442.22,332.43 443.06,331.2 C443.9,329.97 444.75,328.76 445.59,327.57 C446.43,326.38 447.27,325.21 448.12,324.06 C448.96,322.91 449.8,321.78 450.65,320.66 C451.49,319.55 452.33,318.45 453.18,317.37 C454.02,316.29 454.86,315.23 455.71,314.19 C456.55,313.14 457.39,312.11 458.24,311.1 C459.08,310.09 459.92,309.09 460.76,308.1 C461.61,307.12 462.45,306.15 463.29,305.2 C464.14,304.24 464.98,303.3 465.82,302.37 C466.67,301.45 467.51,300.53 468.35,299.63 C469.2,298.73 470.04,297.84 470.88,296.96 C471.73,296.08 472.57,295.21 473.41,294.35 C474.25,293.5 475.1,292.65 475.94,291.82 C476.78,290.98 477.63,290.15 478.47,289.33 C479.31,288.52 479.75,287.88 481,286.91 C482.25,285.94 484.33,284.32 486,283.5 C487.67,282.68 489.35,282.35 491,282 C492.65,281.65 493.03,281.25 495.9,281.4 C498.77,281.55 504.1,282.85 508.2,282.9 C512.3,282.95 516.03,282.05 520.5,281.7 C524.97,281.35 529.63,281.03 535,280.8 C540.37,280.57 545.12,280.62 552.7,280.3 C560.28,279.98 571.25,278.9 580.5,278.9 C589.75,278.9 599.88,280.07 608.2,280.3 C616.52,280.53 624.4,280.45 630.4,280.3 C636.4,280.15 640.27,279.78 644.2,279.4 C648.13,279.02 652.37,278.23 654,278" fill="none" stroke="#12d412" stroke-width="2.6" stroke-linejoin="round" stroke-linecap="round"/>
<path d="M390.5,414.7 C391.63,414.97 395.13,416.29 397.3,416.3 C399.47,416.31 402.05,415.48 403.5,414.77 C404.95,414.07 405.18,412.98 406.02,412.06 C406.85,411.13 407.69,410.2 408.53,409.25 C409.37,408.3 410.21,407.34 411.05,406.36 C411.88,405.39 412.72,404.4 413.56,403.41 C414.4,402.41 415.24,401.4 416.08,400.38 C416.92,399.37 417.75,398.34 418.59,397.3 C419.43,396.27 420.27,395.22 421.11,394.17 C421.95,393.12 422.78,392.06 423.62,391 C424.46,389.94 425.3,388.86 426.14,387.79 C426.98,386.71 427.82,385.63 428.65,384.55 C429.49,383.47 430.33,382.38 431.17,381.29 C432.01,380.2 432.85,379.11 433.68,378.02 C434.52,376.93 435.36,375.83 436.2,374.74 C437.04,373.64 437.88,372.55 438.72,371.46 C439.55,370.37 440.39,369.27 441.23,368.19 C442.07,367.1 442.91,366.01 443.75,364.93 C444.58,363.85 445.42,362.77 446.26,361.7 C447.1,360.62 447.94,359.55 448.78,358.49 C449.62,357.43 450.45,356.37 451.29,355.33 C452.13,354.28 452.97,353.24 453.81,352.2 C454.65,351.17 455.48,350.14 456.32,349.12 C457.16,348.1 458,347.09 458.84,346.08 C459.68,345.08 460.52,344.08 461.35,343.09 C462.19,342.1 463.03,341.12 463.87,340.14 C464.71,339.16 465.55,338.19 466.38,337.23 C467.22,336.27 468.06,335.31 468.9,334.36 C469.74,333.42 470.58,332.47 471.42,331.54 C472.25,330.61 473.09,329.68 473.93,328.76 C474.77,327.84 475.61,326.92 476.45,326.02 C477.28,325.11 478.12,324.21 478.96,323.32 C479.8,322.43 480.64,321.54 481.48,320.66 C482.32,319.78 483.15,318.91 483.99,318.04 C484.83,317.18 485.67,316.32 486.51,315.47 C487.35,314.62 488.18,313.77 489.02,312.93 C489.86,312.1 490.7,311.26 491.54,310.44 C492.38,309.61 493.22,308.8 494.05,307.99 C494.89,307.17 495.73,306.37 496.57,305.57 C497.41,304.77 498.25,303.98 499.08,303.2 C499.92,302.41 499.98,302.7 501.6,300.86 C503.22,299.03 506.9,294.09 508.8,292.2 C510.7,290.31 511.47,290.28 513,289.5 C514.53,288.72 516,288.03 518,287.5 C520,286.97 521.98,286.75 525,286.3 C528.02,285.85 532.4,285.08 536.1,284.8 C539.8,284.52 543.05,284.92 547.2,284.6 C551.35,284.28 556.37,283.6 561,282.9 C565.63,282.2 570.83,280.95 575,280.4 C579.17,279.85 582.58,279.6 586,279.6 C589.42,279.6 590.48,280.25 595.5,280.4 C600.52,280.55 610.62,280.37 616.1,280.5 C621.58,280.63 624.98,280.83 628.4,281.2 C631.82,281.57 633.87,282 636.6,282.7 C639.33,283.4 641.88,284.27 644.8,285.4 C647.72,286.53 652.55,288.82 654.1,289.5" fill="none" stroke="#1414ff" stroke-width="2.6" stroke-linejoin="round" stroke-linecap="round"/>
<line x1="456.7" y1="304.2" x2="469.6" y2="288.3" stroke="#e8a040" stroke-width="1.3" stroke-dasharray="1.2 1.1"/>
<line x1="458.1" y1="311.3" x2="477.7" y2="290.9" stroke="#c8e040" stroke-width="1.3" stroke-dasharray="1.2 1.1"/>
<line x1="486.1" y1="317.7" x2="503" y2="299" stroke="#d8c840" stroke-width="1.3" stroke-dasharray="1.2 1.1"/>
<line x1="595.5" y1="337.8" x2="612" y2="313.1" stroke="#e8d040" stroke-width="1.3" stroke-dasharray="1.2 1.1"/>
<line x1="635.6" y1="321.3" x2="652" y2="294.6" stroke="#d8d040" stroke-width="1.3" stroke-dasharray="1.2 1.1"/>
<rect x="519.3" y="393.6" width="157.1" height="49" fill="#ffffff" stroke="#666" stroke-width="0.9"/>
<line x1="521" y1="398.9" x2="537" y2="398.9" stroke="#4a4a4a" stroke-width="2.8" stroke-linecap="round"/>
<text x="539.5" y="401.4" font-size="6.8" font-weight="bold" fill="#111" textLength="32.9" lengthAdjust="spacingAndGlyphs">Pure-PVA</text>
<text x="575.2" y="401.4" font-size="6.9" font-weight="bold" fill="#111" textLength="97.9" lengthAdjust="spacingAndGlyphs">{<tspan fill="#111111">Slope=2.33491 R<tspan font-size="4.5" dy="-2.5">2</tspan><tspan dy="2.5">=0.97237</tspan></tspan>}</text>
<line x1="521" y1="408.45" x2="537" y2="408.45" stroke="#f24a4a" stroke-width="2.8" stroke-linecap="round"/>
<text x="539.5" y="410.95" font-size="6.8" font-weight="bold" fill="#111" textLength="22.5" lengthAdjust="spacingAndGlyphs">PVA-C</text>
<text x="574.5" y="410.95" font-size="6.9" font-weight="bold" fill="#111" textLength="98.6" lengthAdjust="spacingAndGlyphs">{<tspan fill="#ff1f1f">Slope=2.18942 R<tspan font-size="4.5" dy="-2.5">2</tspan><tspan dy="2.5">=0.99254</tspan></tspan>}</text>
<line x1="521" y1="418" x2="537" y2="418" stroke="#1414ff" stroke-width="2.8" stroke-linecap="round"/>
<text x="539.5" y="420.5" font-size="6.8" font-weight="bold" fill="#111" textLength="26.5" lengthAdjust="spacingAndGlyphs">PVA-D1</text>
<text x="574.5" y="420.5" font-size="6.9" font-weight="bold" fill="#111" textLength="98.6" lengthAdjust="spacingAndGlyphs">{<tspan fill="#2a2aff">Slope=1.65548 R<tspan font-size="4.5" dy="-2.5">2</tspan><tspan dy="2.5">=0.99686</tspan></tspan>}</text>
<line x1="521" y1="427.55" x2="537" y2="427.55" stroke="#12d412" stroke-width="2.8" stroke-linecap="round"/>
<text x="539.5" y="430.05" font-size="6.8" font-weight="bold" fill="#111" textLength="26.5" lengthAdjust="spacingAndGlyphs">PVA-D2</text>
<text x="574.5" y="430.05" font-size="6.9" font-weight="bold" fill="#111" textLength="98.6" lengthAdjust="spacingAndGlyphs">{<tspan fill="#1f8f1f">Slope=1.62333 R<tspan font-size="4.5" dy="-2.5">2</tspan><tspan dy="2.5">=0.99952</tspan></tspan>}</text>
<line x1="521" y1="437.1" x2="537" y2="437.1" stroke="#9914cf" stroke-width="2.8" stroke-linecap="round"/>
<text x="539.5" y="439.6" font-size="6.8" font-weight="bold" fill="#111" textLength="26.5" lengthAdjust="spacingAndGlyphs">PVA-D3</text>
<text x="574.5" y="439.6" font-size="6.9" font-weight="bold" fill="#111" textLength="98.6" lengthAdjust="spacingAndGlyphs">{<tspan fill="#a322e0">Slope=1.61765 R<tspan font-size="4.5" dy="-2.5">2</tspan><tspan dy="2.5">=0.99887</tspan></tspan>}</text>
<rect x="385.4" y="245.3" width="291" height="197.3" fill="none" stroke="#333333" stroke-width="1.1"/>
</svg>
</body></html>
